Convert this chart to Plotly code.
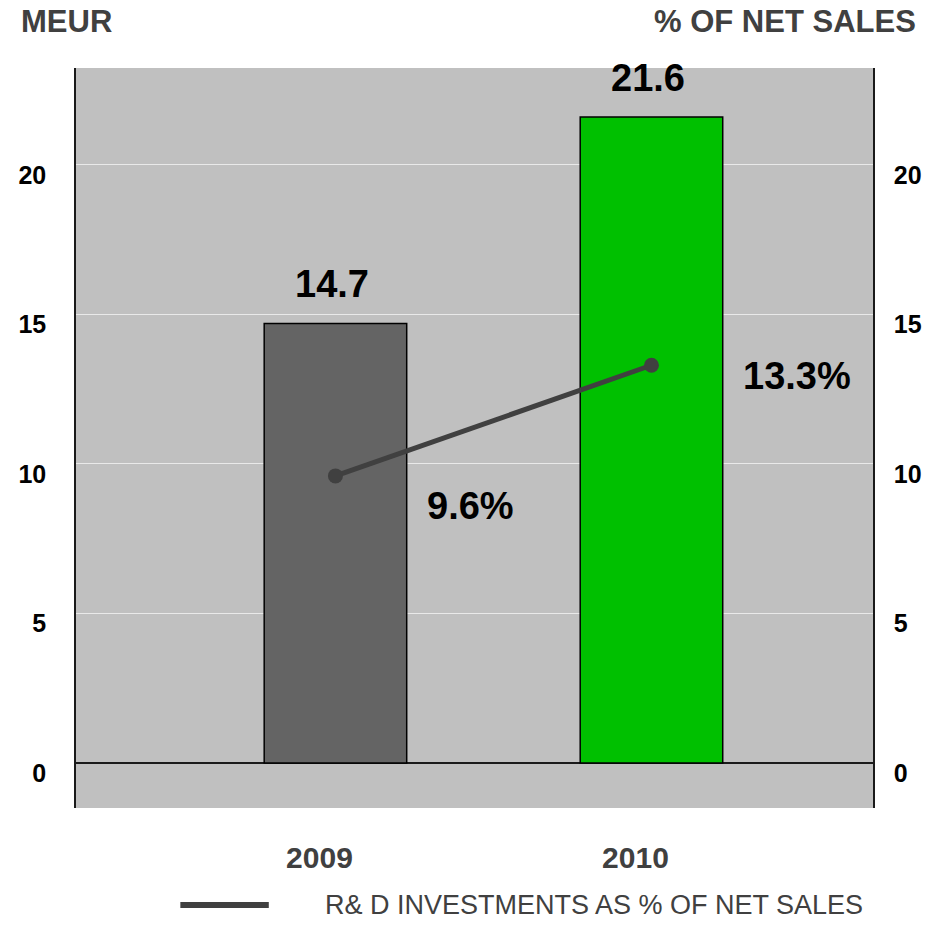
import plotly.graph_objects as go

# R&D investments (MEUR) and their share of net sales (%)
years = ["2009", "2010"]
rd_meur = [14.7, 21.6]
rd_pct = [9.6, 13.3]
bar_colors = ["#646464", "#00c000"]
pct_label_yshift = [-30, -11]
legend_name = "R& D INVESTMENTS AS % OF NET SALES"

FONT = "Liberation Sans, Arial, sans-serif"
Y_RANGE = [-1.505, 23.24]

fig = go.Figure()

fig.add_trace(go.Bar(
    x=years, y=rd_meur, width=0.451,
    marker=dict(color=bar_colors, line=dict(color="black", width=1.5)),
    showlegend=False, hoverinfo="skip",
))

fig.add_trace(go.Scatter(
    x=years, y=rd_pct, yaxis="y2", mode="lines+markers",
    line=dict(color="#404040", width=5),
    marker=dict(color="#404040", size=15),
    name=legend_name, showlegend=False,
))

annotations = []
for i, v in enumerate(rd_meur):
    annotations.append(dict(
        x=i, y=v, xref="x", yref="y", text=f"{v:.1f}", showarrow=False,
        yanchor="bottom", yshift=16, xshift=-3,
        font=dict(family=FONT, size=38, color="black", weight="bold"),
    ))
for i, (p, dy) in enumerate(zip(rd_pct, pct_label_yshift)):
    annotations.append(dict(
        x=i, y=p, xref="x", yref="y2", text=f"{p:.1f}%", showarrow=False,
        xanchor="left", xshift=90, yshift=dy,
        font=dict(family=FONT, size=38, color="black", weight="bold"),
    ))

# axis captions
annotations.append(dict(
    x=19, y=936 - 22, xref="paper", yref="paper", text="MEUR", showarrow=False,
    font=dict(family=FONT, size=31, color="#404040", weight="bold"),
    xanchor="left", yanchor="middle",
))
annotations.append(dict(
    x=923, y=936 - 22, xref="paper", yref="paper", text="% OF NET SALES", showarrow=False,
    font=dict(family=FONT, size=31, color="#404040", weight="bold"),
    xanchor="right", yanchor="middle",
))

# custom legend entry for the line series
annotations.append(dict(
    x=325, y=936 - 905, xref="paper", yref="paper", text=legend_name, showarrow=False,
    font=dict(family=FONT, size=27, color="#404040"),
    xanchor="left", yanchor="middle",
))

# convert pixel-based paper coordinates to the plot's paper fractions
L, R, T, B = 76, 56, 68, 128
W, H = 934, 936
pw, ph = W - L - R, H - T - B
for a in annotations:
    if a["xref"] == "paper":
        a["x"] = (a["x"] - L) / pw
        a["y"] = (a["y"] - B) / ph

shapes = [dict(
    type="line", xref="paper", yref="paper",
    x0=(181 - L) / pw, x1=(270 - L) / pw,
    y0=(936 - 905 - B) / ph, y1=(936 - 905 - B) / ph,
    line=dict(color="#404040", width=6),
)]

tickfont = dict(family=FONT, size=25, color="black", weight="bold")

fig.update_layout(
    width=W, height=H,
    margin=dict(l=L, r=R, t=T, b=B, pad=0),
    paper_bgcolor="white",
    plot_bgcolor="#c0c0c0",
    showlegend=False,
    annotations=annotations,
    shapes=shapes,
    xaxis=dict(
        type="category",
        range=[-0.821, 1.701], showgrid=False, zeroline=False, showline=False,
        ticks="", tickfont=dict(family=FONT, size=30, color="#404040", weight="bold"),
        ticklabelstandoff=29, ticklabelshift=-16,
    ),
    yaxis=dict(
        range=Y_RANGE, tickvals=[0, 5, 10, 15, 20], ticks="",
        showgrid=True, gridcolor="#e9e9e9", gridwidth=1,
        zeroline=True, zerolinecolor="#1a1a1a", zerolinewidth=1.5,
        showline=True, linecolor="#1a1a1a", linewidth=1.5,
        tickfont=tickfont, ticklabelstandoff=23, ticklabelshift=10,
    ),
    yaxis2=dict(
        range=Y_RANGE, tickvals=[0, 5, 10, 15, 20], ticks="",
        overlaying="y", side="right", showgrid=False, zeroline=False,
        showline=True, linecolor="#1a1a1a", linewidth=1.5,
        tickfont=tickfont, ticklabelstandoff=14, ticklabelshift=10,
    ),
)

fig.write_html("out.html")
